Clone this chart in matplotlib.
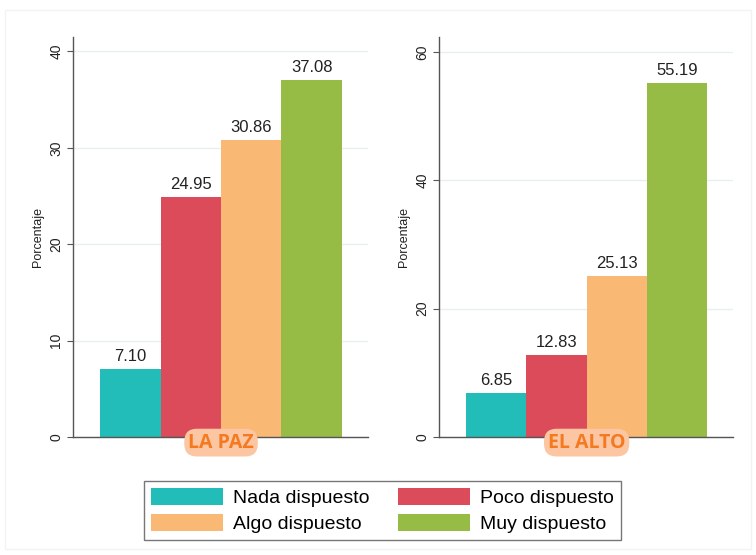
import matplotlib.pyplot as plt
from matplotlib.patches import Patch, Rectangle

categories = ["Nada dispuesto", "Poco dispuesto", "Algo dispuesto", "Muy dispuesto"]
colors = ["#23bdb9", "#db4b5a", "#f9b873", "#96bc45"]
la_paz = [7.10, 24.95, 30.86, 37.08]
el_alto = [6.85, 12.83, 25.13, 55.19]
panels = ["LA PAZ", "EL ALTO"]
ticks_lp = [0, 10, 20, 30, 40]
ticks_ea = [0, 20, 40, 60]

plt.rcParams['font.family'] = ['Liberation Sans', 'DejaVu Sans']

fig = plt.figure(figsize=(7.56, 5.55), dpi=100)
fig.patches.append(Rectangle((0.007, 0.01), 0.986, 0.972, transform=fig.transFigure,
                             fill=False, edgecolor="#f3f3f3", linewidth=1))

ax1 = fig.add_axes([0.0966, 0.2126, 0.39, 0.7207])
ax2 = fig.add_axes([0.5807, 0.2126, 0.389, 0.7207])

for ax, vals, ticks, ymax, name in [(ax1, la_paz, ticks_lp, 41.5, panels[0]),
                                    (ax2, el_alto, ticks_ea, 62.3, panels[1])]:
    x = range(len(vals))
    ax.bar(x, vals, width=1.0, color=colors, zorder=2)
    for xi, v in zip(x, vals):
        ax.text(xi, v + ymax * 0.012, f"{v:.2f}", ha="center", va="bottom",
                fontsize=12, color="#222222")
    ax.set_xlim(-0.95, 3.93)
    ax.set_ylim(0, ymax)
    ax.set_yticks(ticks)
    ax.set_yticklabels([str(t) for t in ticks], rotation=90, va="center",
                       fontsize=10, color="#222222")
    ax.set_xticks([])
    ax.grid(axis="y", color="#e6f0f0", linewidth=1, zorder=0)
    for s in ["top", "right"]:
        ax.spines[s].set_visible(False)
    for s in ["left", "bottom"]:
        ax.spines[s].set_color("#555555")
        ax.spines[s].set_linewidth(1)
    ax.tick_params(axis="y", length=4, color="#555555", pad=3)
    ax.set_ylabel("Porcentaje", fontsize=9, color="#222222", labelpad=4)
    ax.text(1.5, -0.014, name, transform=ax.get_xaxis_transform(), ha="center", va="center",
            fontsize=14, fontweight="bold", color="#f47a22", family=["Open Sans", "DejaVu Sans"],
            bbox=dict(boxstyle="round,pad=0.2,rounding_size=0.65", facecolor="#fcc6a2",
                      edgecolor="none"), zorder=5, clip_on=False)

handles = [Patch(facecolor=c, edgecolor="none", label=l) for c, l in zip(colors, categories)]
order = [0, 2, 1, 3]
leg = fig.legend([handles[i] for i in order], [categories[i] for i in order],
                 loc="center", bbox_to_anchor=(0.506, 0.0802), ncol=2, fontsize=14,
                 frameon=True, fancybox=False, handlelength=3.7, handleheight=1.0,
                 columnspacing=1.5, handletextpad=0.5, labelspacing=0.35,
                 borderpad=0.35, borderaxespad=0)
leg.get_frame().set_edgecolor("#555555")
leg.get_frame().set_linewidth(1)

fig.savefig("out.png", dpi=100)
